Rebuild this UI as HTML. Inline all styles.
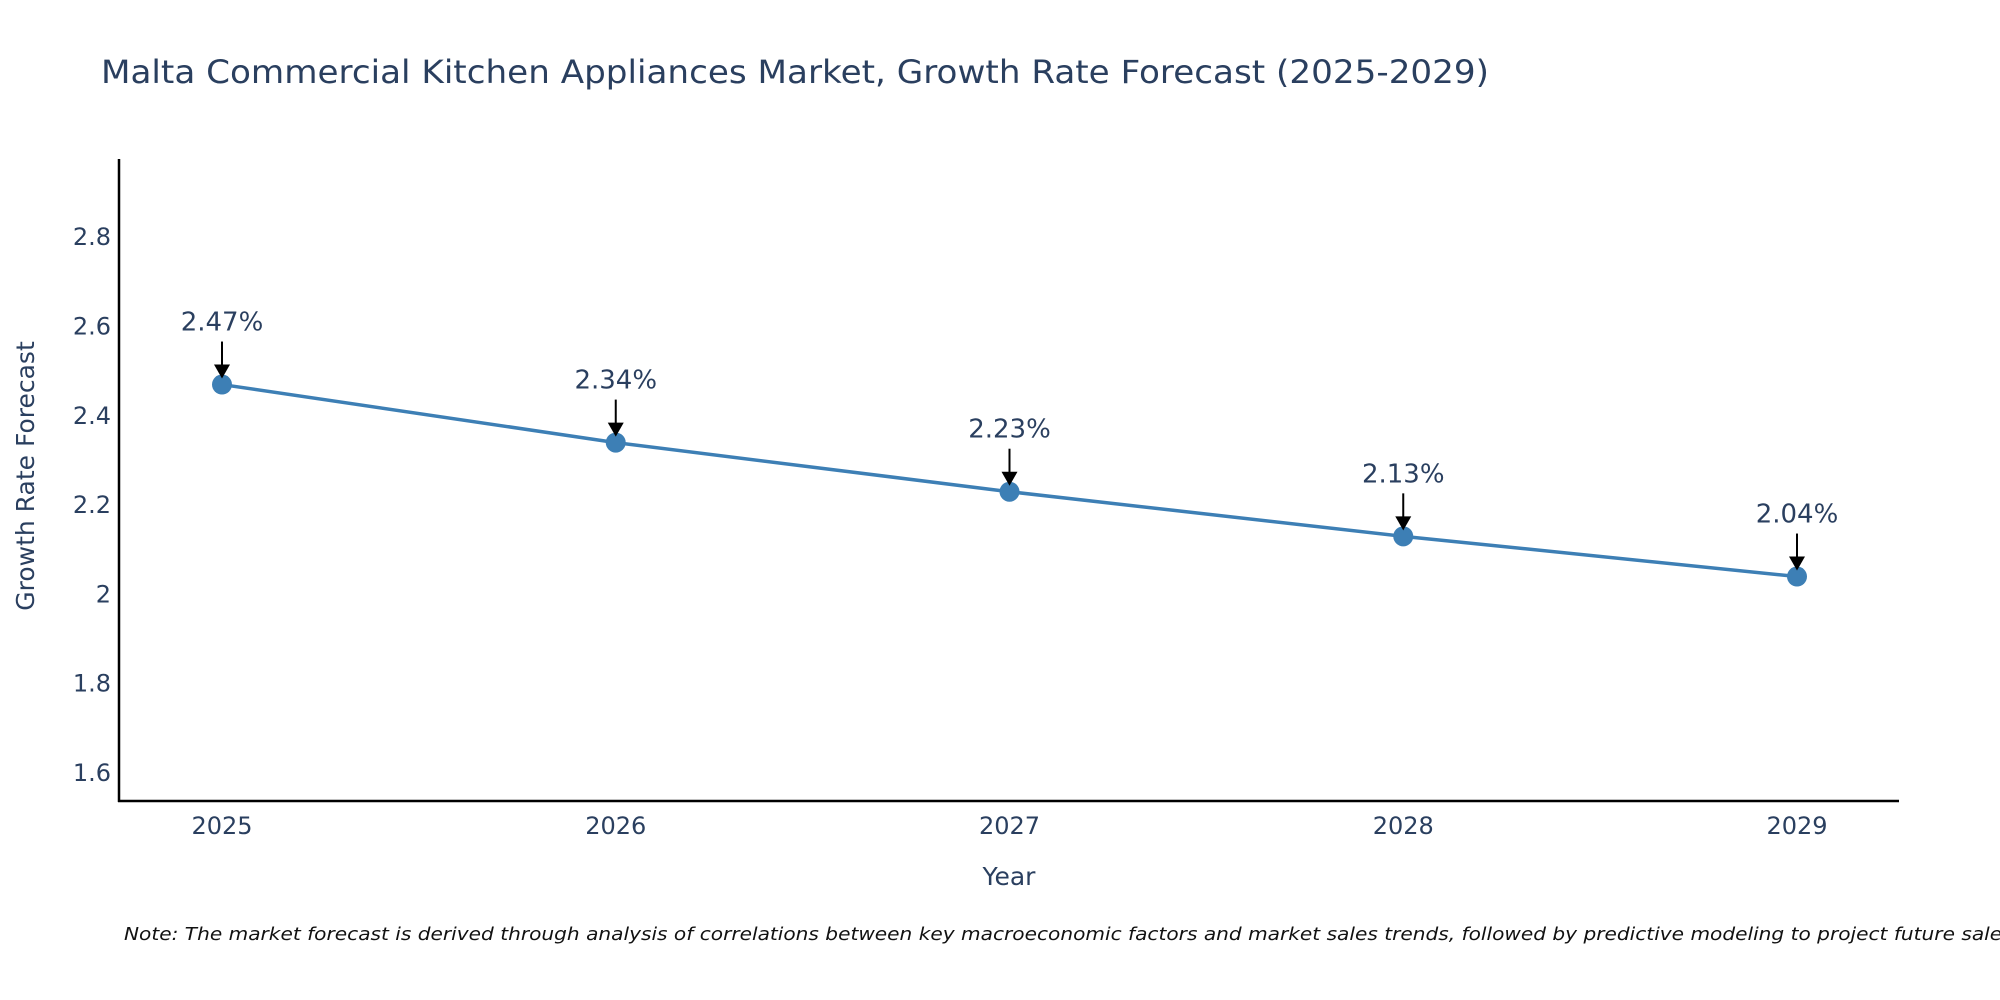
<!DOCTYPE html>
<html><head><meta charset="utf-8"><style>
html,body{margin:0;padding:0;background:#fff;}
svg{display:block;font-family:"DejaVu Sans","Liberation Sans",sans-serif;}
</style></head><body>
<svg id="chart" width="2000" height="1000" viewBox="0 0 2000 1000">
<text x="101" y="83" font-size="32" fill="#2a3f5f" textLength="1388" lengthAdjust="spacingAndGlyphs">Malta Commercial Kitchen Appliances Market, Growth Rate Forecast (2025-2029)</text>
<g id="yticks"></g>
<g id="xticks"></g>
<line x1="119" y1="159" x2="119" y2="802" stroke="#000" stroke-width="2.5"/>
<line x1="118" y1="801" x2="1899" y2="801" stroke="#000" stroke-width="2.5"/>
<text transform="translate(34,476) rotate(-90)" text-anchor="middle" font-size="25" fill="#2a3f5f">Growth Rate Forecast</text>
<text x="1009" y="885" text-anchor="middle" font-size="25" fill="#2a3f5f">Year</text>
<g id="series"></g>
<g id="annots"></g>
<text x="124" y="940" font-size="18" font-style="italic" fill="#111" textLength="1895" lengthAdjust="spacingAndGlyphs">Note: The market forecast is derived through analysis of correlations between key macroeconomic factors and market sales trends, followed by predictive modeling to project future sales.</text>
</svg>
<script>
const years = ["2025","2026","2027","2028","2029"];
const growth = [2.47, 2.34, 2.23, 2.13, 2.04];
const labels = ["2.47%","2.34%","2.23%","2.13%","2.04%"];
const yTicks = [1.6, 1.8, 2, 2.2, 2.4, 2.6, 2.8];
const yTickLabels = ["1.6","1.8","2","2.2","2.4","2.6","2.8"];

const NS="http://www.w3.org/2000/svg";
function yScale(v){return 773-(v-1.6)/0.2*89.3;}
function xScale(i){return 222+i*(1797-222)/(years.length-1);}
function mk(tag,attrs,parent){const e=document.createElementNS(NS,tag);for(const k in attrs)e.setAttribute(k,attrs[k]);parent.appendChild(e);return e;}

const yt=document.getElementById('yticks');
yTicks.forEach((v,i)=>{
  const t=mk('text',{x:111,y:yScale(v)+8,'text-anchor':'end','font-size':24,fill:'#2a3f5f'},yt);
  
  
  t.textContent=yTickLabels[i];
});
const xt=document.getElementById('xticks');
years.forEach((y,i)=>{
  const t=mk('text',{x:xScale(i),y:834,'text-anchor':'middle','font-size':24,fill:'#2a3f5f'},xt);
  
  
  t.textContent=y;
});
const s=document.getElementById('series');
const pts=growth.map((v,i)=>xScale(i)+','+yScale(v)).join(' ');
const pl=mk('polyline',{points:pts,fill:'none',stroke:'#3d7fb5','stroke-width':3.5},s);


growth.forEach((v,i)=>{
  const c=mk('circle',{cx:xScale(i),cy:yScale(v),r:10,fill:'#3d7fb5'},s);
  
  
});
const a=document.getElementById('annots');
growth.forEach((v,i)=>{
  const x=xScale(i),y=yScale(v);
  const ln=mk('line',{x1:x,y1:y-43,x2:x,y2:y-16,stroke:'#000','stroke-width':2},a);
  
  
  const p=mk('polygon',{points:`${x-8},${y-20} ${x+8},${y-20} ${x},${y-6}`,fill:'#000'},a);
  
  
  const t=mk('text',{x:x,y:y-54,'text-anchor':'middle','font-size':26,fill:'#2a3f5f'},a);
  
  
  t.textContent=labels[i];
});
</script>
</body></html>
